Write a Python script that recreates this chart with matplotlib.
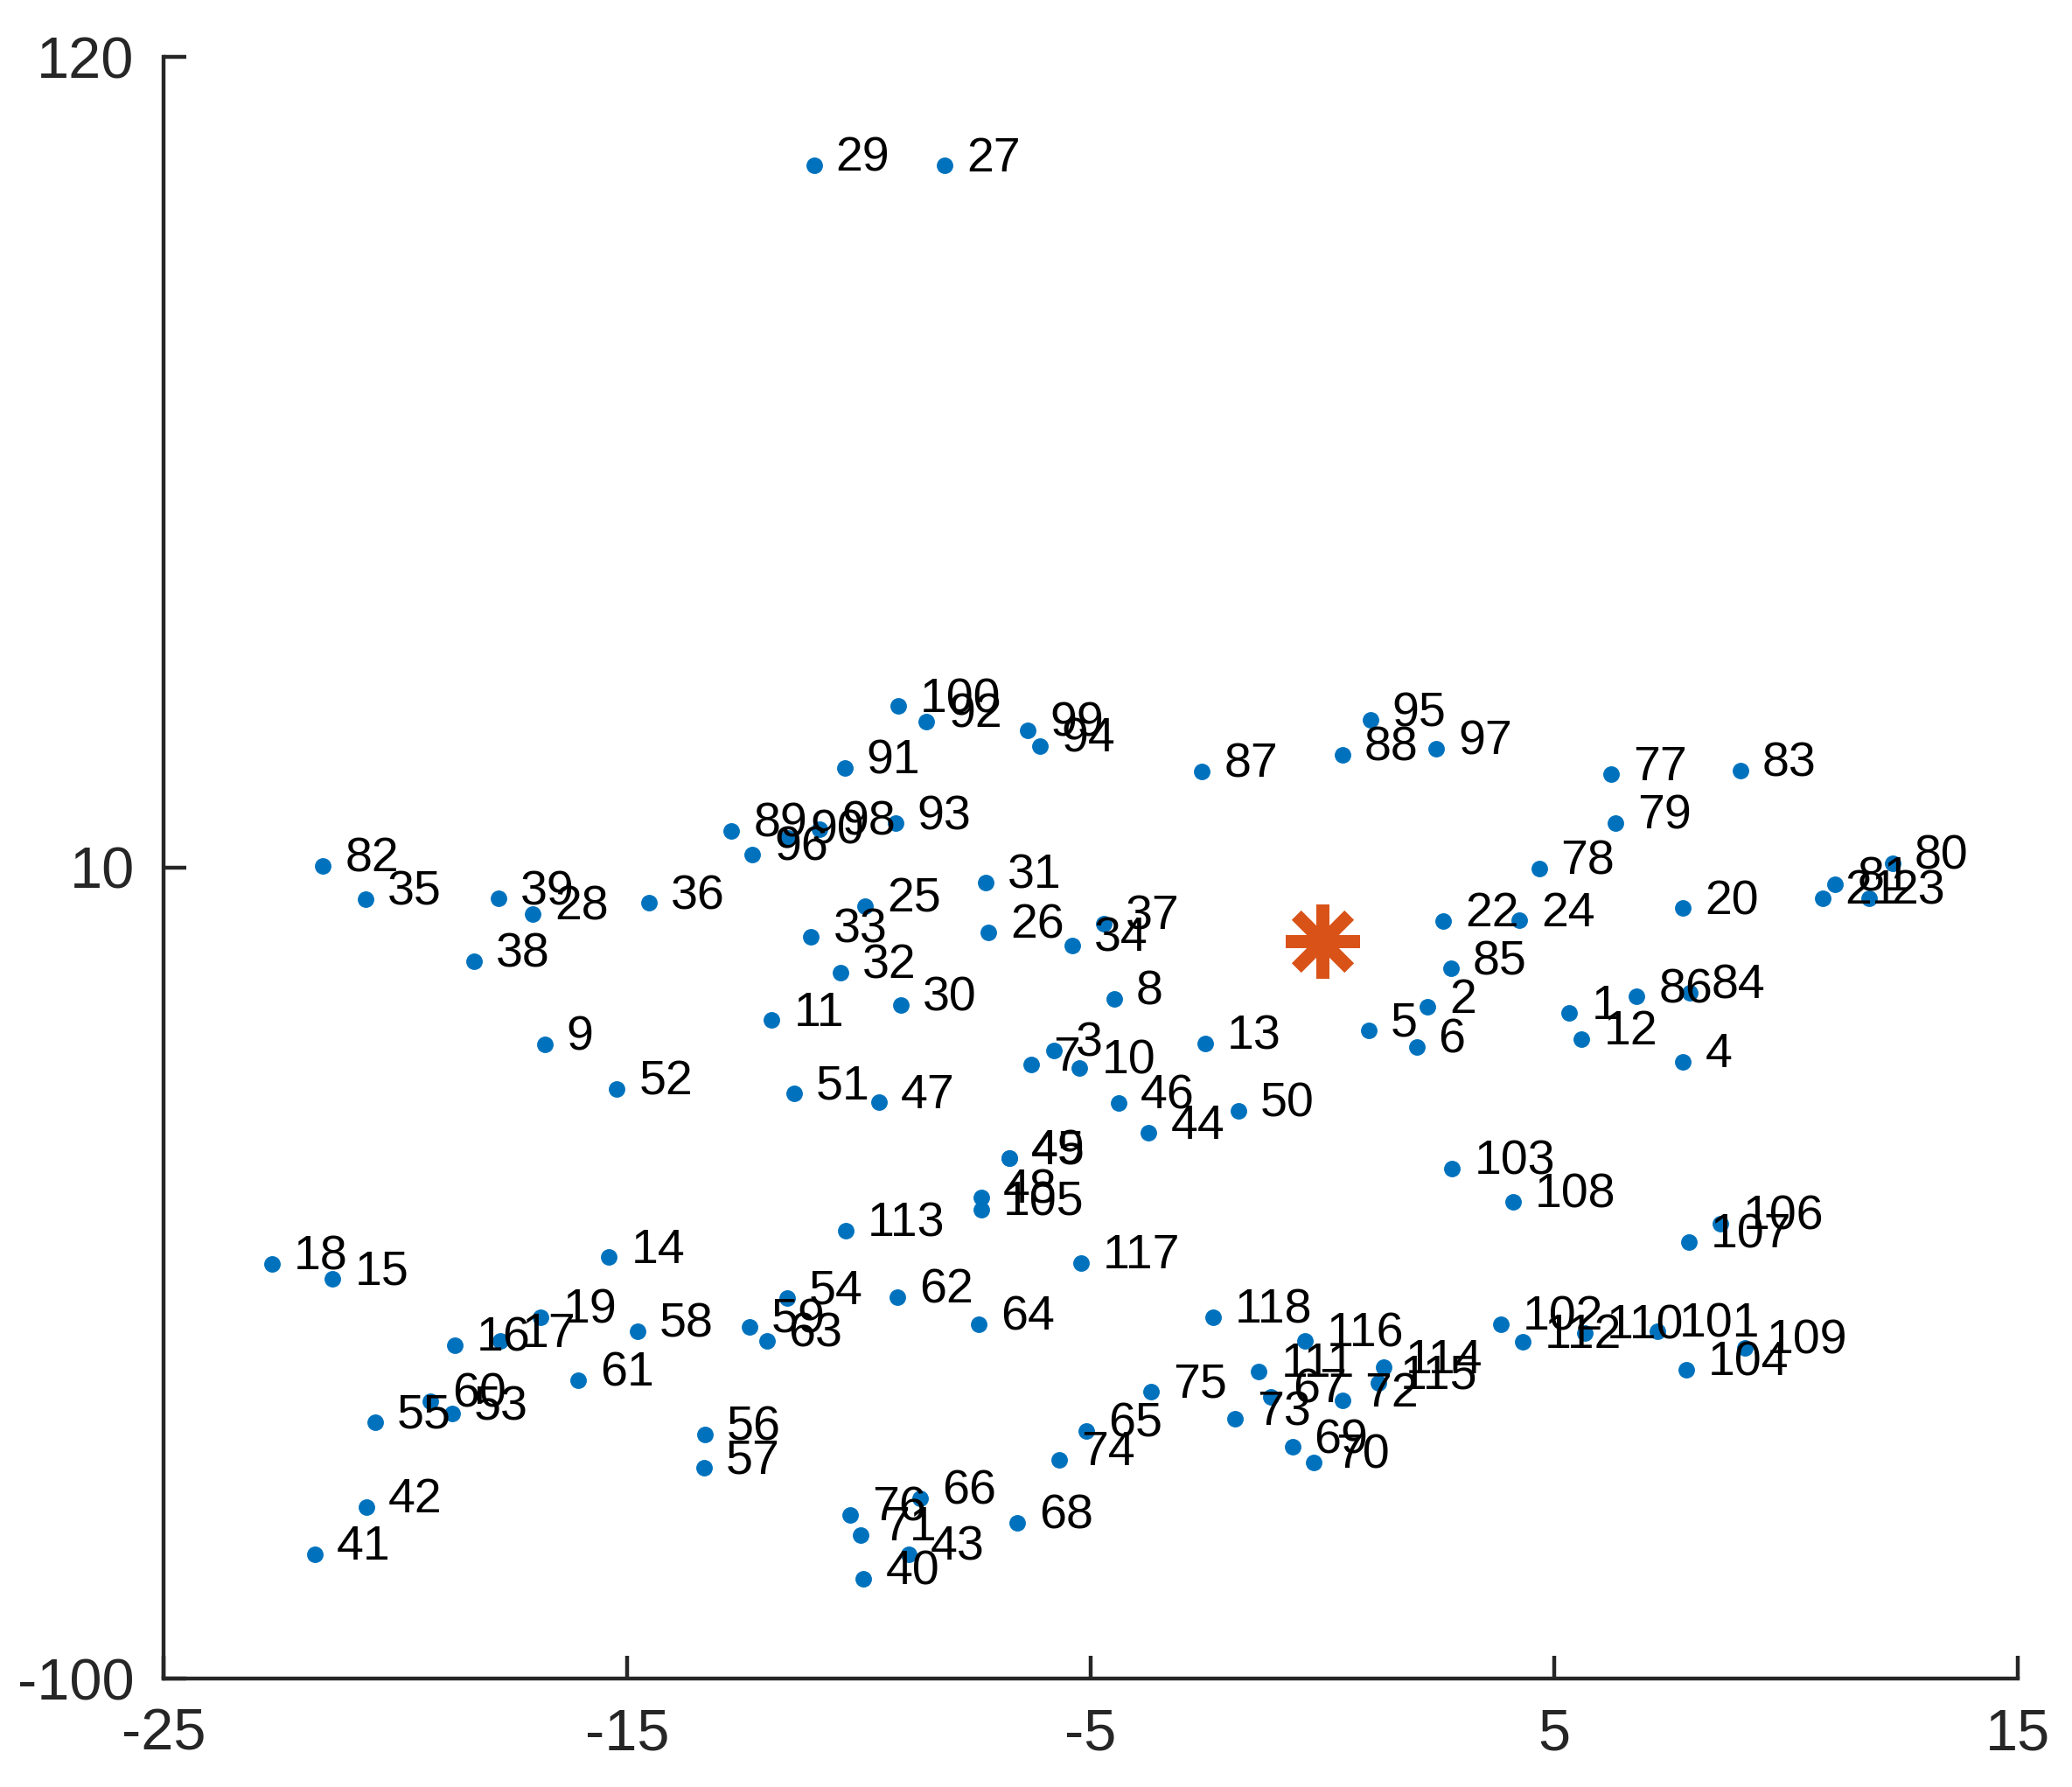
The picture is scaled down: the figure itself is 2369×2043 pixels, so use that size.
import matplotlib
matplotlib.use("Agg")
import matplotlib.pyplot as plt

# point positions, index i -> label i+1
xs = [5.33, 2.26, -5.79, 7.78, 1.00, 2.03, -6.28, -4.50, -16.78, -5.24,
      -11.88, 5.59, -2.53, -15.39, -21.35, -18.72, -17.74, -22.66, -16.86, 7.78,
      10.80, 2.60, 11.80, 4.25, -9.86, -7.21, -8.15, -17.03, -10.97, -9.09,
      -7.26, -10.40, -11.03, -5.40, -20.64, -14.53, -4.72, -18.31, -17.77, -9.90,
      -21.74, -20.63, -8.92, -3.75, -6.75, -4.40, -9.57, -7.36, -6.75, -1.82,
      -11.40, -15.22, -18.77, -11.55, -20.43, -13.32, -13.34, -14.77, -12.36, -19.24,
      -16.05, -9.17, -11.99, -7.41, -5.10, -8.67, -1.12, -6.58, -0.65, -0.19,
      -9.96, 0.44, -1.88, -5.67, -3.70, -10.18, 6.22, 4.67, 6.32, 12.30,
      11.06, -21.56, 9.01, 7.92, 2.77, 6.78, -2.60, 0.43, -12.75, -11.52,
      -10.31, -8.54, -9.21, -6.10, 1.03, -12.30, 2.46, -10.84, -6.36, -9.15,
      7.22, 3.85, 2.80, 7.84, -7.36, 8.59, 7.90, 4.11, 9.11, 5.66,
      -1.37, 4.32, -10.29, 1.32, 1.21, -0.38, -5.21, -2.36]
ys = [-9.7, -8.9, -14.8, -16.3, -12.1, -14.3, -16.7, -7.8, -14.0, -17.2,
      -10.7, -13.2, -13.8, -42.8, -45.8, -54.8, -54.2, -43.7, -51.0, 4.5,
      5.9, 2.8, 5.9, 2.9, 4.8, 1.25, 105.3, 3.7, 105.3, -8.6,
      8.0, -4.2, 0.6, -0.6, 5.7, 5.2, 2.4, -2.7, 5.8, -86.5,
      -83.1, -76.7, -83.1, -26.0, -29.4, -21.9, -21.8, -34.7, -29.4, -23.0,
      -20.6, -20.0, -64.1, -48.4, -65.2, -66.9, -71.4, -52.9, -52.3, -62.4,
      -59.5, -48.3, -54.2, -51.9, -66.4, -75.5, -61.8, -78.9, -68.6, -70.7,
      -80.5, -62.3, -64.8, -70.3, -61.1, -77.8, 22.7, 9.9, 16.1, 10.6,
      7.7, 10.2, 23.2, -7.0, -3.7, -7.5, 23.1, 25.3, 15.0, 14.0,
      23.5, 29.8, 16.0, 26.5, 30.0, 11.8, 26.1, 15.2, 28.6, 31.9,
      -52.9, -51.9, -30.8, -58.1, -36.4, -38.3, -40.8, -35.3, -55.1, -53.1,
      -58.3, -54.3, -39.2, -57.8, -59.9, -54.2, -43.6, -51.0]
labels = [str(i + 1) for i in range(len(xs))]

center = (0, 0)

xticks = [-25, -15, -5, 5, 15]
yticks = [-100, 10, 120]

plt.rcParams['font.family'] = ['Liberation Sans', 'DejaVu Sans']
plt.rcParams['axes.unicode_minus'] = False

fig = plt.figure(figsize=(2369 / 200, 2043 / 200), dpi=200)
ax = fig.add_axes([187 / 2369, 124 / 2043, 2120 / 2369, 1854 / 2043])

ax.plot(xs, ys, linestyle='none', marker='o', ms=6.8, mew=0, color='#0072BD')
ax.plot(center[0], center[1], linestyle='none', marker=(8, 2, 0), ms=30.5,
        mew=5.4, color='#D95319')

for x, y, s in zip(xs, ys, labels):
    ax.annotate(s, (x, y), xytext=(9.0, -2.4), textcoords='offset points',
                ha='left', va='baseline', fontsize=20, color='black')

ax.set_xlim(-25, 15)
ax.set_ylim(-100, 120)
ax.set_xticks(xticks)
ax.set_xticklabels([str(t) for t in xticks])
ax.set_yticks(yticks)
ax.set_yticklabels([str(t) for t in yticks])

for side in ['top', 'right']:
    ax.spines[side].set_visible(False)
for side in ['left', 'bottom']:
    ax.spines[side].set_linewidth(1.6)
    ax.spines[side].set_color('#262626')
ax.tick_params(direction='in', length=9.4, width=1.6, color='#262626',
               labelcolor='#262626', labelsize=24, pad=12)

fig.savefig('out.png', dpi=200)
